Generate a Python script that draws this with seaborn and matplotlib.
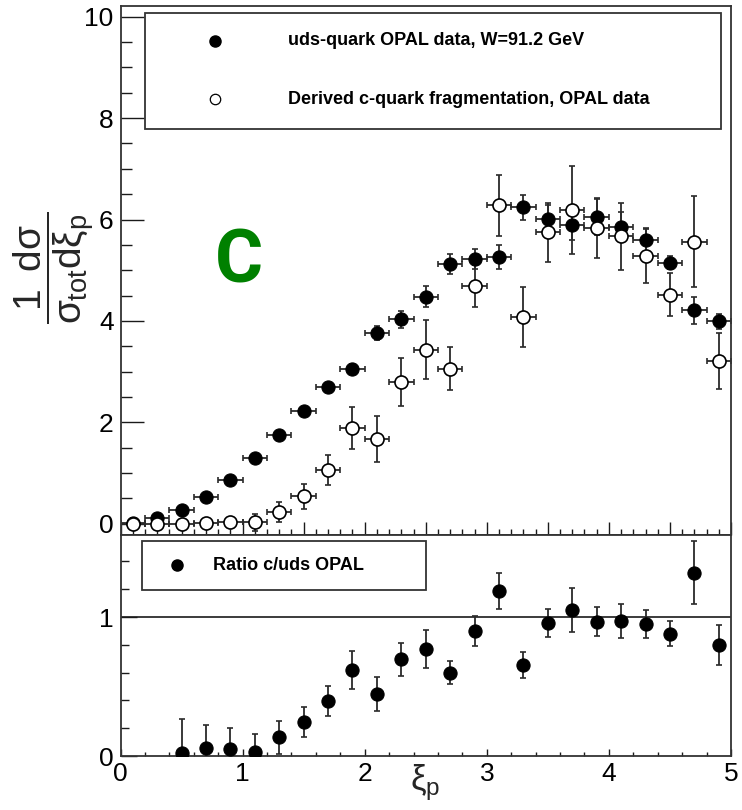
import numpy as np
import pandas as pd
import matplotlib
matplotlib.use("Agg")
import matplotlib.pyplot as plt
from matplotlib.patches import Rectangle
from matplotlib.ticker import MultipleLocator
import seaborn as sns

# xi_p bin centres and half-width
xi = [0.1, 0.3, 0.5, 0.7, 0.9, 1.1, 1.3, 1.5, 1.7, 1.9, 2.1, 2.3, 2.5,
      2.7, 2.9, 3.1, 3.3, 3.5, 3.7, 3.9, 4.1, 4.3, 4.5, 4.7, 4.9]
half_bin = 0.1

# uds-quark OPAL data, W = 91.2 GeV
uds_val = [0.02, 0.12, 0.27, 0.53, 0.86, 1.30, 1.75, 2.22, 2.70, 3.06, 3.76, 4.03, 4.48,
           5.12, 5.22, 5.26, 6.24, 6.01, 5.89, 6.05, 5.85, 5.59, 5.15, 4.21, 3.99]
uds_err = [0.10, 0.05, 0.05, 0.05, 0.06, 0.07, 0.07, 0.07, 0.08, 0.09, 0.14, 0.16, 0.20,
           0.20, 0.20, 0.23, 0.25, 0.28, 0.30, 0.35, 0.30, 0.22, 0.13, 0.27, 0.15]

# derived c-quark fragmentation
c_val = [0.00, 0.00, 0.00, 0.02, 0.04, 0.03, 0.23, 0.54, 1.06, 1.89, 1.67, 2.79, 3.43,
         3.06, 4.69, 6.28, 4.07, 5.75, 6.19, 5.83, 5.67, 5.29, 4.52, 5.56, 3.21]
c_err = [0.10, 0.05, 0.05, 0.05, 0.07, 0.17, 0.20, 0.25, 0.29, 0.41, 0.46, 0.47, 0.58,
         0.42, 0.42, 0.60, 0.59, 0.58, 0.87, 0.59, 0.66, 0.54, 0.43, 0.90, 0.55]

# ratio c/uds
ratio_xi = [0.5, 0.7, 0.9, 1.1, 1.3, 1.5, 1.7, 1.9, 2.1, 2.3, 2.5,
            2.7, 2.9, 3.1, 3.3, 3.5, 3.7, 3.9, 4.1, 4.3, 4.5, 4.7, 4.9]
ratio_val = [0.024, 0.055, 0.048, 0.026, 0.134, 0.245, 0.396, 0.619, 0.446, 0.695, 0.768,
             0.600, 0.900, 1.190, 0.655, 0.955, 1.050, 0.966, 0.971, 0.947, 0.878, 1.320, 0.800]
ratio_err = [0.24, 0.17, 0.15, 0.13, 0.12, 0.11, 0.11, 0.14, 0.125, 0.12, 0.135,
             0.085, 0.105, 0.13, 0.095, 0.10, 0.156, 0.105, 0.12, 0.10, 0.09, 0.23, 0.145]

uds_label = "uds-quark OPAL data, W=91.2 GeV"
c_label = "Derived c-quark fragmentation, OPAL data"
ratio_label = "Ratio c/uds OPAL"

sns.set_theme(style="ticks")
plt.rcParams["font.family"] = ["Liberation Sans", "DejaVu Sans"]
plt.rcParams["mathtext.fontset"] = "custom"
plt.rcParams["mathtext.rm"] = "Liberation Sans"
plt.rcParams["mathtext.it"] = "Liberation Sans"
plt.rcParams["mathtext.bf"] = "Liberation Sans:bold"

W, H = 742, 810
fig = plt.figure(figsize=(W / 100, H / 100), dpi=100)
fig.patch.set_facecolor("white")

x0, x1 = 120.5, 731
ax = fig.add_axes([x0 / W, 1 - 535 / H, (x1 - x0) / W, (535 - 6) / H])
axr = fig.add_axes([x0 / W, 1 - 756 / H, (x1 - x0) / W, (756 - 535) / H])

ink = "#1a1a1a"
ebar_kw = dict(fmt="none", ecolor="#2a2a2a", elinewidth=1.3, capsize=2.5, capthick=1.2, zorder=2)

df = pd.DataFrame({"xi": xi, "uds": uds_val, "c": c_val})
dfr = pd.DataFrame({"xi": ratio_xi, "ratio": ratio_val})

# upper panel
ax.errorbar(xi, c_val, yerr=c_err, xerr=half_bin, **ebar_kw)
ax.errorbar(xi, uds_val, yerr=uds_err, xerr=half_bin, **ebar_kw)
sns.scatterplot(data=df, x="xi", y="uds", ax=ax, s=90, color="black",
                edgecolor="black", linewidth=0.8, zorder=3, legend=False)
sns.scatterplot(data=df, x="xi", y="c", ax=ax, s=88, facecolor="white",
                edgecolor="black", linewidth=1.2, zorder=3, legend=False)

ax.set_xlim(0, 5)
ax.set_ylim(-0.22, 10.21)
ax.xaxis.set_major_locator(MultipleLocator(0.5))
ax.xaxis.set_minor_locator(MultipleLocator(0.1))
ax.yaxis.set_major_locator(MultipleLocator(2))
ax.yaxis.set_minor_locator(MultipleLocator(0.5))
ax.tick_params(axis="x", which="major", direction="in", length=9.5, width=1, color=ink,
               labelbottom=False)
ax.tick_params(axis="x", which="minor", direction="in", length=4.5, width=1, color=ink)
ax.tick_params(axis="y", which="major", direction="in", length=16.5, width=1, color=ink,
               labelsize=19, pad=5, labelcolor="black")
ax.tick_params(axis="y", which="minor", direction="in", length=8, width=1, color=ink)
ax.set_xlabel("")
ax.set_ylabel(r"$\dfrac{1\;\;d\sigma}{\sigma_{tot}d\xi_{p}}$", fontsize=28, va="center")
ax.yaxis.set_label_coords(-0.11, 0.505)

ax.text(0.194, 0.515, "C", transform=ax.transAxes, ha="center", va="center",
        fontsize=53, color="#008000", family="Roboto", fontweight="bold")

# upper legend
ax.add_patch(Rectangle((0.040, 0.767), 0.944, 0.220, transform=ax.transAxes,
                       fill=False, edgecolor="#333333", linewidth=1.3, zorder=5))
ax.plot([0.155], [0.934], transform=ax.transAxes, marker="o", ms=8, color="black",
        ls="none", zorder=6, clip_on=False)
ax.plot([0.155], [0.824], transform=ax.transAxes, marker="o", ms=7.5, mfc="white",
        mec="black", mew=0.9, ls="none", zorder=6, clip_on=False)
ax.text(0.274, 0.934, uds_label, transform=ax.transAxes, ha="left", va="center",
        fontsize=13, fontweight="bold", color="black")
ax.text(0.274, 0.824, c_label, transform=ax.transAxes, ha="left", va="center",
        fontsize=13, fontweight="bold", color="black")

# lower panel
axr.axhline(1.0, color=ink, linewidth=1.2, zorder=1)
axr.errorbar(ratio_xi, ratio_val, yerr=ratio_err, **ebar_kw)
sns.scatterplot(data=dfr, x="xi", y="ratio", ax=axr, s=90, color="black",
                edgecolor="black", linewidth=0.8, zorder=3, legend=False)
axr.set_xlim(0, 5)
axr.set_ylim(0, 1.59)
axr.xaxis.set_major_locator(MultipleLocator(1))
axr.xaxis.set_minor_locator(MultipleLocator(0.2))
axr.yaxis.set_major_locator(MultipleLocator(1))
axr.yaxis.set_minor_locator(MultipleLocator(0.2))
axr.tick_params(axis="x", which="major", direction="in", length=5, width=1, color=ink,
                labelsize=19, pad=4, labelcolor="black")
axr.tick_params(axis="x", which="minor", direction="in", length=3, width=1, color=ink)
axr.tick_params(axis="y", which="major", direction="in", length=11.5, width=1, color=ink,
                labelsize=19, pad=5, labelcolor="black")
axr.tick_params(axis="y", which="minor", direction="in", length=6, width=1, color=ink)
axr.set_ylabel("")
axr.set_xlabel(r"$\xi_{p}$", fontsize=25, va="top")
axr.xaxis.set_label_coords(0.498, -0.03)

axr.add_patch(Rectangle((0.035, 0.751), 0.465, 0.222, transform=axr.transAxes,
                        fill=False, edgecolor="#333333", linewidth=1.3, zorder=5))
axr.plot([0.0925], [0.864], transform=axr.transAxes, marker="o", ms=8, color="black",
         ls="none", zorder=6)
axr.text(0.151, 0.864, ratio_label, transform=axr.transAxes, ha="left", va="center",
         fontsize=13, fontweight="bold", color="black")

for a in (ax, axr):
    for s in a.spines.values():
        s.set_color("#333333")
        s.set_linewidth(1.3)
    a.set_facecolor("white")

fig.savefig("out.png", dpi=100, facecolor="white")
